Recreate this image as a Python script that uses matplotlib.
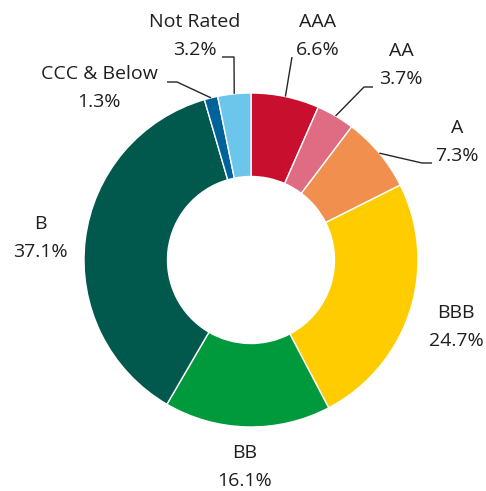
import matplotlib
matplotlib.use("Agg")
import matplotlib.pyplot as plt
import numpy as np

categories = ["AAA", "AA", "A", "BBB", "BB", "B", "CCC & Below", "Not Rated"]
values = [6.6, 3.7, 7.3, 24.7, 16.1, 37.1, 1.3, 3.2]
colors = ["#C8102E", "#E06C84", "#F08F4E", "#FFCC00", "#009A3D", "#00594C", "#00629B", "#6CC5EA"]

# layout (pixel positions in the 486x491 canvas)
CX, CY, R = 251, 260, 167
def px(x, y):
    return ((x - CX) / R, (CY - y) / R)

label_pos = {
    "AAA": (318, 36), "AA": (401, 65), "A": (457, 142), "BBB": (456, 327),
    "BB": (245, 467), "B": (40, 238), "CCC & Below": (99, 88), "Not Rated": (195, 36),
}
leaders = {  # elbow point, end point of horizontal segment
    "AAA": ((292, 57), (292, 57)),
    "AA": ((364, 87), (373, 87)),
    "A": ((422, 163), (432, 163)),
    "CCC & Below": ((177, 82), (167, 82)),
    "Not Rated": ((234, 57), (222, 57)),
}

plt.rcParams['font.family'] = ['Open Sans', 'DejaVu Sans']
fig = plt.figure(figsize=(4.86, 4.91), dpi=100)
ax = fig.add_axes([0, 0, 1, 1])
wedges, _ = ax.pie(values, colors=colors, startangle=90, counterclock=False,
                   radius=1.0, wedgeprops=dict(width=0.5, edgecolor="white", linewidth=1.0))
ax.set_xlim((0 - CX) / R, (486 - CX) / R)
ax.set_ylim((CY - 491) / R, CY / R)
ax.set_aspect("auto")
ax.axis("off")

txtcol = "#1f1f1f"
for w, cat, v in zip(wedges, categories, values):
    lx, ly = px(*label_pos[cat])
    ax.text(lx, ly, f"{cat}\n{v:.1f}%", ha="center", va="center", fontsize=14,
            color=txtcol, linespacing=1.72, multialignment="center")
    if cat in leaders:
        ang = np.deg2rad((w.theta1 + w.theta2) / 2)
        sx, sy = np.cos(ang), np.sin(ang)
        (e1, e2) = leaders[cat]
        ex, ey = px(*e1)
        hx, hy = px(*e2)
        ax.plot([sx, ex, hx], [sy, ey, hy], color="#262626", lw=1.0, solid_capstyle="butt")

fig.savefig("out.png", dpi=100)
